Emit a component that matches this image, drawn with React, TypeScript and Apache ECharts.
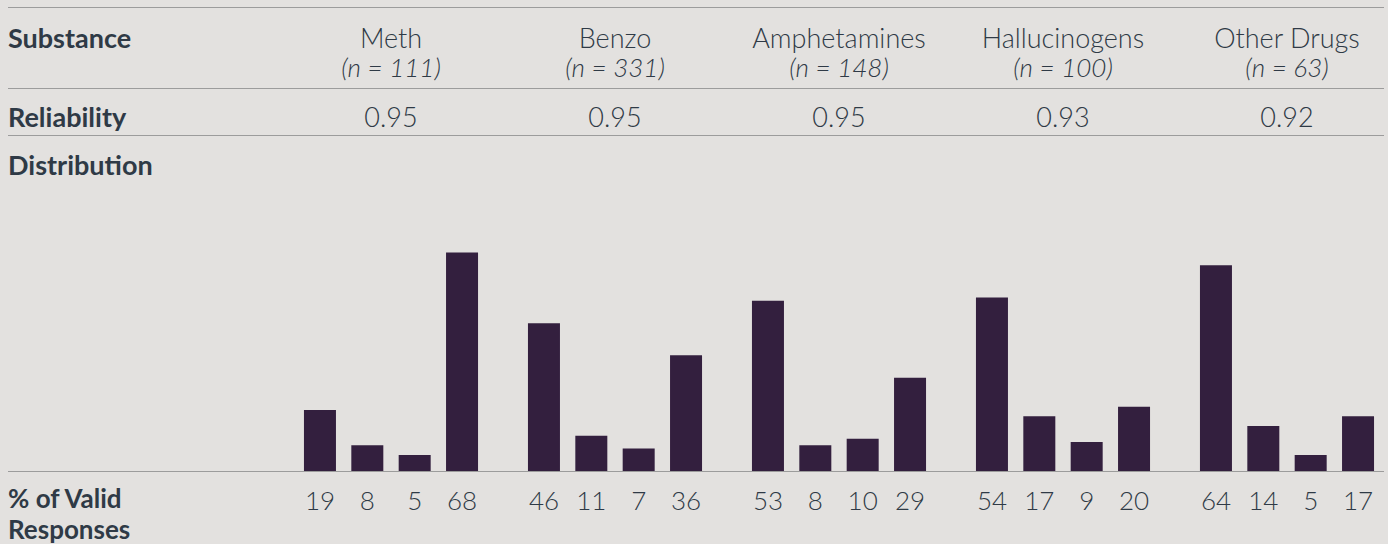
import React, { useEffect, useRef } from "react";
import * as echarts from "echarts";

const substances = ["Meth", "Benzo", "Amphetamines", "Hallucinogens", "Other Drugs"];
const sampleSizes = [111, 331, 148, 100, 63];
const reliability = ["0.95", "0.95", "0.95", "0.93", "0.92"];
// % of valid responses, one array per response level (4 bars per substance)
const level1 = [19, 46, 53, 54, 64];
const level2 = [8, 11, 8, 17, 14];
const level3 = [5, 7, 10, 9, 5];
const level4 = [68, 36, 29, 20, 17];
const levelNames = ["Level 1", "Level 2", "Level 3", "Level 4"];
const rowLabels = ["Substance", "Reliability", "Distribution"];
const footLabel = "% of Valid\nResponses";

const BG = "#e3e1df";
const BAR = "#331f3e";
const TEXT = "#2f3a46";
const RULE = "#9c9c9c";
const FONT = "Lato, 'Noto Sans', sans-serif";

export default function App() {
  const ref = useRef<HTMLDivElement>(null);
  useEffect(() => {
    if (!ref.current) return;
    const chart = echarts.init(ref.current, undefined, { renderer: "svg" });
    const levels = [level1, level2, level3, level4];
    const series = levels.map((d, i) => ({
      type: "bar",
      name: levelNames[i],
      data: d,
      xAxisIndex: 0,
      barWidth: 32,
      barGap: "48%",
      clip: false,
      itemStyle: { color: BAR },
      label: {
        show: true,
        position: "bottom",
        distance: 16,
        color: TEXT,
        fontFamily: FONT,
        fontSize: 26,
        fontWeight: 300,
      },
    }));
    const rowY = [37, 116, 164];
    const graphic: any[] = [];
    [7.5, 88.5, 135.5, 471.5].forEach((y) =>
      graphic.push({
        type: "line",
        shape: { x1: 8, y1: y, x2: 1384, y2: y },
        style: { stroke: RULE, lineWidth: 1 },
        z: 10,
      })
    );
    rowLabels.forEach((t, i) =>
      graphic.push({
        type: "text",
        x: 8,
        y: rowY[i],
        style: {
          text: t,
          fill: TEXT,
          font: `bold 27px ${FONT}`,
          textVerticalAlign: "middle",
        },
      })
    );
    graphic.push({
      type: "text",
      x: 8,
      y: 482,
      style: {
        text: footLabel,
        fill: TEXT,
        font: `bold 26px ${FONT}`,
        lineHeight: 31,
        textVerticalAlign: "top",
      },
    });
    chart.setOption({
      animation: false,
      backgroundColor: BG,
      grid: { left: 391, width: 896, top: 246, bottom: 73 },
      xAxis: [
        {
          type: "category",
          data: substances,
          boundaryGap: false,
          position: "bottom",
          axisLine: { show: false },
          axisTick: { show: false },
          axisLabel: { show: false },
        },
        {
          type: "category",
          data: substances,
          boundaryGap: false,
          position: "top",
          offset: 96,
          axisLine: { show: false },
          axisTick: { show: false },
          axisLabel: {
            margin: 0,
            interval: 0,
            formatter: (v: string, i: number) =>
              `{a|${v}}\n{b|(}{i|n}{b| = ${sampleSizes[i]})}\n{r|${reliability[i]}}`,
            rich: {
              a: { fontFamily: FONT, fontSize: 27, fontWeight: 300, color: TEXT, lineHeight: 30 },
              b: { fontFamily: FONT, fontSize: 26, fontWeight: 300, fontStyle: "italic", color: TEXT, lineHeight: 30 },
              i: { fontFamily: FONT, fontSize: 26, fontWeight: 300, fontStyle: "italic", color: TEXT, lineHeight: 30 },
              r: { fontFamily: FONT, fontSize: 27, fontWeight: 300, color: TEXT, lineHeight: 68 },
            },
          },
        },
      ],
      yAxis: {
        type: "value",
        min: 0,
        max: 70,
        show: false,
        splitLine: { show: false },
      },
      graphic,
      series,
    });
    return () => chart.dispose();
  }, []);
  return (
    <div
      ref={ref}
      style={{ position: "fixed", left: 0, top: 0, width: 1388, height: 544, background: BG }}
    />
  );
}
